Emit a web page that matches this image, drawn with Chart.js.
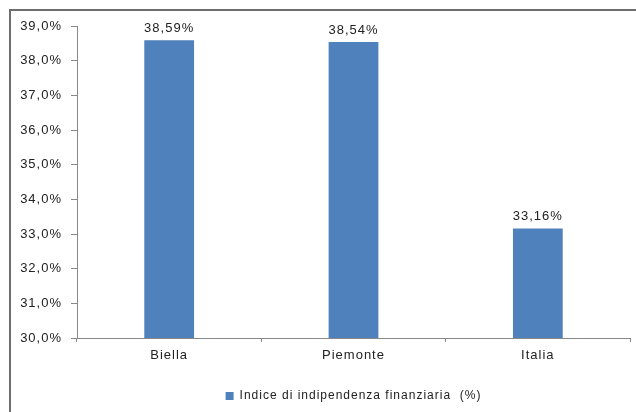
<!DOCTYPE html>
<html>
<head>
<meta charset="utf-8">
<script src="https://cdn.jsdelivr.net/npm/chart.js@4"></script>
<style>
  body { margin: 0; background: #fff; }
  #wrap { position: relative; width: 636px; height: 412px; overflow: hidden; }
  #frame { position: absolute; left: 9px; top: 9px; width: 640px; height: 420px;
           border-top: 2px solid #6e6e6e; border-left: 2px solid #6e6e6e; }
  canvas { position: absolute; left: 0; top: 0; }
</style>
</head>
<body>
<div id="wrap">
  <div id="frame"></div>
  <canvas id="myChart" width="636" height="412"></canvas>
</div>
<script>
const categories = ['Biella', 'Piemonte', 'Italia'];
const values = [38.59, 38.54, 33.16];
const seriesName = 'Indice di indipendenza finanziaria  (%)';
const yMin = 30, yMax = 39, yStep = 1;

const FONT = '"Liberation Sans", Arial, sans-serif';
const fmt = (v, d) => v.toFixed(d).replace('.', ',') + '%';

// wider letter spacing for all chart text (set before measuring and drawing)
const spacing = {
    id: 'spacing',
    beforeUpdate(chart) { chart.ctx.letterSpacing = '1px'; },
    beforeLayout(chart) { chart.ctx.letterSpacing = '1px'; },
    beforeDraw(chart) { chart.ctx.letterSpacing = '1px'; }
};

// value labels above each bar
const valueLabels = {
    id: 'valueLabels',
    afterDatasetsDraw(chart) {
        const ctx = chart.ctx;
        const meta = chart.getDatasetMeta(0);
        ctx.save();
        ctx.font = '13px ' + FONT;
        ctx.fillStyle = '#222';
        ctx.textAlign = 'center';
        ctx.textBaseline = 'middle';
        meta.data.forEach((bar, i) => {
            ctx.fillText(fmt(values[i], 2), bar.x, bar.y - 12);
        });
        ctx.restore();
    }
};

const ctx = document.getElementById('myChart').getContext('2d');
new Chart(ctx, {
    type: 'bar',
    data: {
        labels: categories,
        datasets: [{
            label: seriesName,
            data: values,
            backgroundColor: '#4F81BD',
            borderWidth: 0,
            categoryPercentage: 1,
            barPercentage: 0.27
        }]
    },
    options: {
        responsive: false,
        animation: false,
        layout: { padding: { left: 12, right: 6, top: 26, bottom: 0 } },
        scales: {
            x: {
                grid: { drawOnChartArea: false, drawTicks: true, tickLength: 4, color: '#888' },
                border: { color: '#888', width: 1 },
                ticks: { color: '#222', font: { size: 13, family: FONT }, padding: 6 },
                afterFit(scale) { scale.height = 42; }
            },
            y: {
                min: yMin,
                max: yMax,
                grid: { drawOnChartArea: false, drawTicks: true, tickLength: 6, color: '#888' },
                border: { color: '#888', width: 1 },
                ticks: {
                    stepSize: yStep,
                    padding: 9,
                    color: '#222',
                    font: { size: 13, family: FONT },
                    callback: v => fmt(v, 1)
                },
                afterFit(scale) { scale.width = 65; }
            }
        },
        plugins: {
            legend: {
                position: 'bottom',
                fullSize: false,
                labels: {
                    boxWidth: 8,
                    boxHeight: 8,
                    padding: 10,
                    color: '#222',
                    font: { size: 12, family: FONT }
                }
            },
            tooltip: { enabled: false }
        }
    },
    plugins: [spacing, valueLabels]
});
</script>
</body>
</html>
